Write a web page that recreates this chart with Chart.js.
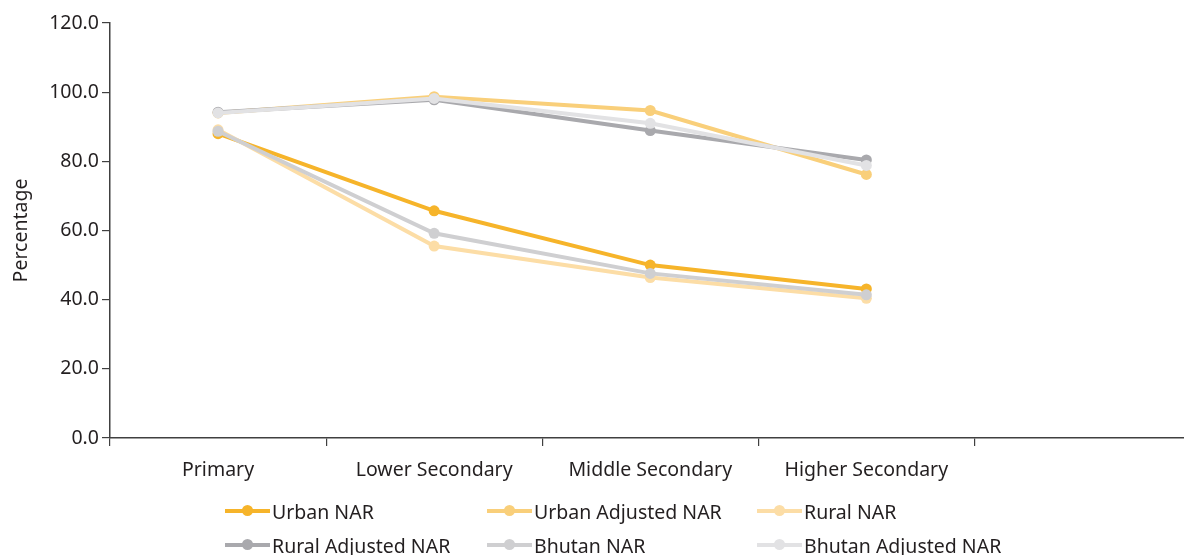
<!DOCTYPE html>
<html>
<head>
<meta charset="utf-8">
<script src="https://cdn.jsdelivr.net/npm/chart.js@4"></script>
<style>
  html, body { margin: 0; padding: 0; background: #fff; overflow: hidden; }
  #wrap { position: relative; width: 1184px; height: 555px; overflow: hidden; }
  #box { position: absolute; left: 0; top: 0; width: 1196px; height: 555px; }
  #legend {
    position: absolute; left: 225px; top: 494px;
    display: grid; grid-template-columns: 262px 270px 280px; row-gap: 0;
    font-family: "Noto Sans", sans-serif; font-size: 19.5px; color: #231f20;
  }
  .item { display: flex; align-items: center; height: 34px; white-space: nowrap; }
  .swatch { position: relative; width: 45px; height: 4px; margin-right: 2px; }
  .swatch i { position: absolute; left: 17px; top: -4px; width: 11px; height: 11px; border-radius: 50%; }
</style>
</head>
<body>
<div id="wrap">
  <div id="box"><canvas id="myChart"></canvas></div>
  <div id="legend"></div>
</div>
<script>
const categories = ['Primary', 'Lower Secondary', 'Middle Secondary', 'Higher Secondary', ''];
const yTicks = [0, 20, 40, 60, 80, 100, 120];

const urbanNar = [88.0, 65.7, 50.0, 43.1];
const urbanAdjNar = [94.0, 98.7, 94.7, 76.2];
const ruralNar = [89.1, 55.5, 46.4, 40.4];
const ruralAdjNar = [94.2, 97.8, 88.9, 80.4];
const bhutanNar = [88.7, 59.2, 47.6, 41.4];
const bhutanAdjNar = [94.0, 98.2, 91.0, 78.8];

const seriesNames = ['Urban NAR', 'Urban Adjusted NAR', 'Rural NAR', 'Rural Adjusted NAR', 'Bhutan NAR', 'Bhutan Adjusted NAR'];
const seriesData = [urbanNar, urbanAdjNar, ruralNar, ruralAdjNar, bhutanNar, bhutanAdjNar];
const seriesColors = ['#f6b42a', '#f9cf7a', '#fcdda6', '#a9a9ad', '#cfcfd1', '#e2e2e4'];

const datasets = seriesNames.map((name, i) => ({
  label: name,
  data: seriesData[i],
  borderColor: seriesColors[i],
  backgroundColor: seriesColors[i],
  borderWidth: 4,
  pointRadius: 5.5,
  pointHoverRadius: 5.5,
  pointBorderWidth: 0,
  tension: 0,
  fill: false,
  order: seriesNames.length - i
}));

const font = { family: '"Noto Sans", sans-serif', size: 19.5 };

const ctx = document.getElementById('myChart').getContext('2d');
const chart = new Chart(ctx, {
  type: 'line',
  data: { labels: categories, datasets: datasets },
  options: {
    responsive: true,
    maintainAspectRatio: false,
    animation: false,
    layout: { padding: { top: 23, right: 2, left: 10, bottom: 0 } },
    plugins: {
      legend: { display: false },
      tooltip: { enabled: false }
    },
    scales: {
      x: {
        offset: true,
        grid: { offset: true, drawOnChartArea: false, drawTicks: true, tickLength: 8, color: '#404040', lineWidth: 1.2 },
        border: { color: '#404040', width: 1.5 },
        ticks: { color: '#231f20', font: font, padding: 13, maxRotation: 0, autoSkip: false },
        afterFit: (scale) => { scale.height = 117; }
      },
      y: {
        min: 0,
        max: 120,
        afterBuildTicks: (scale) => { scale.ticks = yTicks.map(v => ({ value: v })); },
        grid: { drawOnChartArea: false, drawTicks: true, tickLength: 8, color: '#404040', lineWidth: 1.2 },
        border: { color: '#404040', width: 1.5 },
        ticks: { color: '#231f20', font: font, padding: 3, callback: (v) => Number(v).toFixed(1) },
        title: { display: true, text: 'Percentage', color: '#231f20', font: { family: '"Noto Sans", sans-serif', size: 19.5 }, padding: 0 },
        afterFit: (scale) => { scale.width = 100; }
      }
    }
  }
});

// legend built from the chart's datasets, laid out as in the original (3 columns)
const legendEl = document.getElementById('legend');
chart.data.datasets.forEach((ds) => {
  const item = document.createElement('div');
  item.className = 'item';
  item.innerHTML = '<span class="swatch" style="background:' + ds.borderColor + '"><i style="background:' + ds.borderColor + '"></i></span><span>' + ds.label + '</span>';
  legendEl.appendChild(item);
});
</script>
</body>
</html>
